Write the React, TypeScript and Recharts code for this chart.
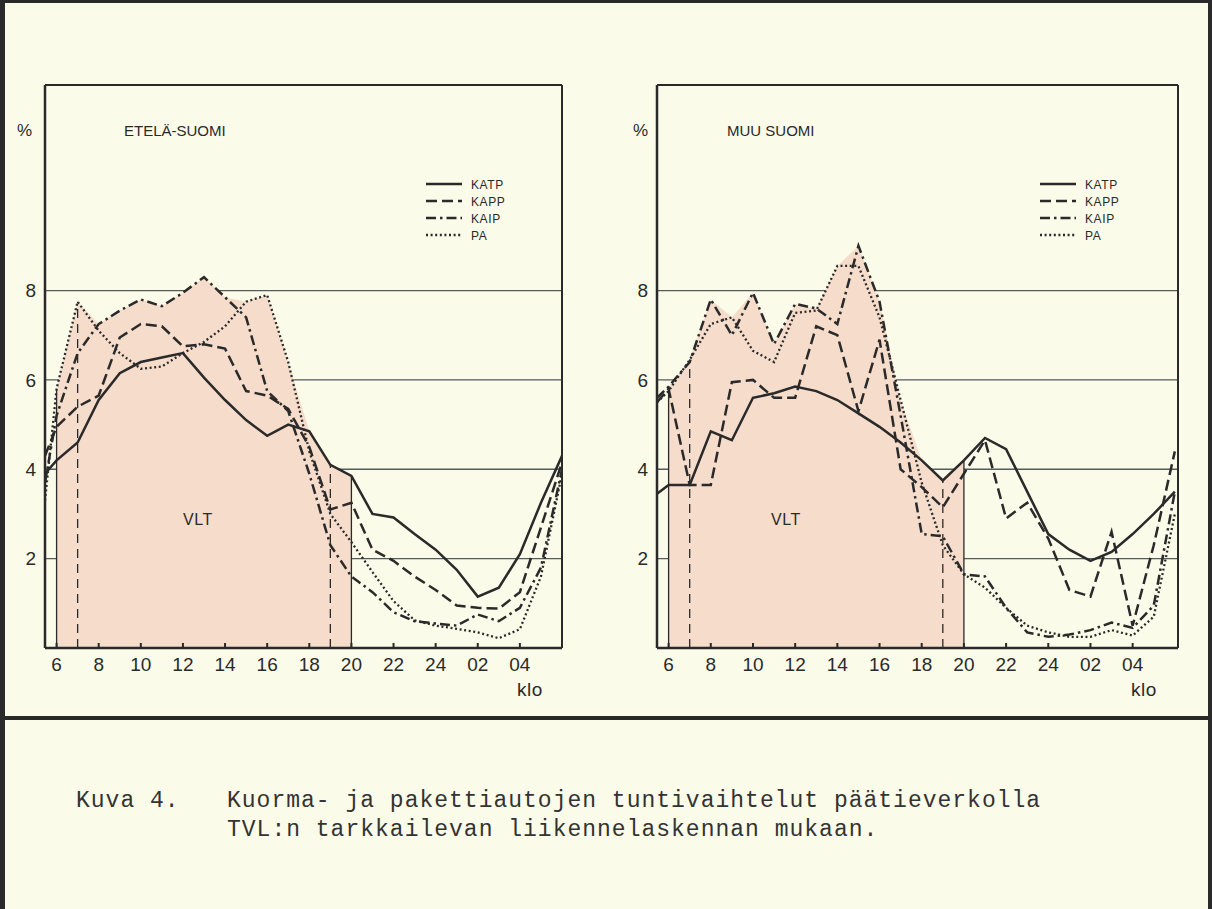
import React from 'react'
import {
  Area,
  CartesianGrid,
  ComposedChart,
  Line,
  ReferenceLine,
  XAxis,
  YAxis,
} from 'recharts'

// hour of day (25..30 = 01..06 next morning), first point sits on the y axis
const HOURS = [5.45, 6, 7, 8, 9, 10, 11, 12, 13, 14, 15, 16, 17, 18, 19, 20, 21, 22, 23, 24, 25, 26, 27, 28, 29, 30]

// ETELÄ-SUOMI
const SOUTH_KATP = [3.9, 4.2, 4.6, 5.55, 6.15, 6.4, 6.5, 6.6, 6.05, 5.55, 5.1, 4.75, 5.0, 4.85, 4.1, 3.85, 3.0, 2.92, 2.55, 2.2, 1.75, 1.15, 1.35, 2.1, 3.25, 4.3]
const SOUTH_KAPP = [4.3, 4.95, 5.4, 5.65, 6.95, 7.25, 7.2, 6.75, 6.8, 6.7, 5.75, 5.65, 5.35, 4.5, 3.1, 3.25, 2.2, 1.95, 1.6, 1.3, 0.95, 0.9, 0.88, 1.25, 2.7, 4.15]
const SOUTH_KAIP = [3.7, 5.2, 6.6, 7.25, 7.55, 7.8, 7.65, 7.95, 8.3, 7.85, 7.4, 5.75, 5.3, 3.9, 2.3, 1.6, 1.25, 0.8, 0.6, 0.55, 0.5, 0.75, 0.6, 0.9, 1.8, 4.0]
const SOUTH_PA = [3.3, 5.8, 7.75, 7.1, 6.6, 6.25, 6.3, 6.6, 6.85, 7.2, 7.75, 7.9, 6.4, 4.4, 3.0, 2.37, 1.7, 1.05, 0.62, 0.5, 0.43, 0.35, 0.22, 0.42, 1.6, 3.9]

// MUU SUOMI
const OTHER_KATP = [3.45, 3.65, 3.65, 4.85, 4.65, 5.6, 5.7, 5.85, 5.75, 5.55, 5.25, 4.95, 4.6, 4.2, 3.75, 4.2, 4.7, 4.45, 3.5, 2.55, 2.2, 1.95, 2.15, 2.55, 3.0, 3.5]
const OTHER_KAPP = [5.5, 5.8, 3.65, 3.65, 5.95, 6.0, 5.6, 5.6, 7.2, 7.0, 5.3, 6.9, 4.0, 3.6, 3.15, 3.9, 4.65, 2.9, 3.25, 2.45, 1.3, 1.15, 2.6, 0.5, 2.3, 4.4]
const OTHER_KAIP = [5.6, 5.85, 6.4, 7.8, 7.0, 7.95, 6.8, 7.7, 7.6, 7.25, 9.0, 7.75, 5.2, 2.55, 2.5, 1.65, 1.6, 0.9, 0.35, 0.25, 0.3, 0.4, 0.57, 0.45, 0.95, 3.5]
const OTHER_PA = [5.5, 5.75, 6.45, 7.25, 7.4, 6.65, 6.4, 7.5, 7.55, 8.55, 8.55, 7.4, 5.55, 3.7, 2.3, 1.65, 1.35, 0.9, 0.5, 0.35, 0.25, 0.25, 0.4, 0.28, 0.7, 3.0]

const TICK_HOURS = [6, 8, 10, 12, 14, 16, 18, 20, 22, 24, 26, 28]
const TICK_LABELS = ['6', '8', '10', '12', '14', '16', '18', '20', '22', '24', '02', '04']
const Y_TICKS = [2, 4, 6, 8]
const SERIES = ['KATP', 'KAPP', 'KAIP', 'PA']

// VLT shading (solid edges) and the dashed marks inside it
const VLT_EDGES = [6, 20]
const VLT_MARKS = [7, 19]

const INK = '#2a2a2a'
const GRID = '#555a5c'
const PINK = '#f6dccb'
const PAPER = '#fbfbe9'
const SANS = '"Liberation Sans", Arial, sans-serif'
const MONO = '"Liberation Mono", "DejaVu Sans Mono", monospace'

const DASH: Record<string, string | undefined> = {
  KATP: undefined,
  KAPP: '11 5',
  KAIP: '10 4 2.5 4',
  PA: '2 2.6',
}

const Y_MAX = 12.6

type SeriesSet = Record<string, number[]>

const buildRows = (set: SeriesSet) =>
  HOURS.map((h, i) => {
    const row: Record<string, number | null> = { h }
    SERIES.forEach((k) => (row[k] = set[k][i]))
    row.vlt =
      h >= VLT_EDGES[0] && h <= VLT_EDGES[1]
        ? Math.max(...SERIES.map((k) => set[k][i]))
        : null
    return row
  })

const HourTick = (props: any) => {
  const { x, y, payload } = props
  const label = TICK_LABELS[TICK_HOURS.indexOf(payload.value)]
  return (
    <g>
      <line x1={x} x2={x} y1={y} y2={y - 5} stroke={INK} strokeWidth={2} />
      <text x={x} y={y + 23} textAnchor='middle' fill={INK} fontSize={19} fontFamily={SANS}>
        {label}
      </text>
    </g>
  )
}

const LegendBox = ({ x }: { x: number }) => (
  <svg width={120} height={72} style={{ position: 'absolute', left: x, top: 174 }}>
    {SERIES.map((k, i) => (
      <g key={k}>
        <line
          x1={0}
          x2={36}
          y1={10 + i * 17}
          y2={10 + i * 17}
          stroke={INK}
          strokeWidth={2.4}
          strokeDasharray={DASH[k]}
        />
        <text x={45} y={14.5 + i * 17} fontSize={12} letterSpacing={0.6} fill={INK} fontFamily={SANS}>
          {k}
        </text>
      </g>
    ))}
  </svg>
)

type HourChartProps = {
  left: number
  rightMargin: number
  xMax: number
  title: string
  titleX: number
  pctX: number
  vltX: number
  kloX: number
  legendX: number
  set: SeriesSet
}

const text = (x: number, y: number, size: number, extra?: React.CSSProperties): React.CSSProperties => ({
  position: 'absolute',
  left: x,
  top: y,
  fontSize: size,
  fontFamily: SANS,
  color: INK,
  lineHeight: 1,
  whiteSpace: 'nowrap',
  ...extra,
})

const HourChart = ({ left, rightMargin, xMax, title, titleX, pctX, vltX, kloX, legendX, set }: HourChartProps) => {
  const rows = buildRows(set)
  const envAt = (h: number) => (rows.find((r) => r.h === h)?.vlt as number) ?? 0

  return (
    <div style={{ position: 'absolute', left, top: 0, width: 600, height: 720 }}>
      <ComposedChart
        width={600}
        height={720}
        data={rows}
        margin={{ top: 85, right: rightMargin, bottom: 32, left: 15 }}
      >
        <CartesianGrid vertical={false} stroke={GRID} strokeWidth={1.3} />
        <XAxis
          type='number'
          dataKey='h'
          domain={[HOURS[0], xMax]}
          allowDataOverflow
          ticks={TICK_HOURS}
          interval={0}
          height={40}
          tickSize={0}
          tickMargin={0}
          tickLine={false}
          axisLine={{ stroke: INK, strokeWidth: 2.5 }}
          tick={<HourTick />}
        />
        <YAxis
          type='number'
          domain={[0, Y_MAX]}
          allowDataOverflow
          ticks={Y_TICKS}
          width={30}
          tickSize={0}
          tickMargin={9}
          tickLine={false}
          axisLine={{ stroke: INK, strokeWidth: 2.5 }}
          tick={{ fill: INK, fontSize: 19, fontFamily: SANS }}
        />
        <Area
          dataKey='vlt'
          type='linear'
          fill={PINK}
          fillOpacity={1}
          stroke='none'
          connectNulls={false}
          isAnimationActive={false}
        />
        {VLT_EDGES.map((h) => (
          <ReferenceLine
            key={`e${h}`}
            segment={[{ x: h, y: 0 }, { x: h, y: envAt(h) }]}
            stroke={INK}
            strokeWidth={1.3}
          />
        ))}
        {VLT_MARKS.map((h) => (
          <ReferenceLine
            key={`m${h}`}
            segment={[{ x: h, y: 0 }, { x: h, y: envAt(h) }]}
            stroke={INK}
            strokeWidth={1.3}
            strokeDasharray='9 6'
          />
        ))}
        <ReferenceLine y={Y_MAX} stroke={INK} strokeWidth={2} />
        <ReferenceLine x={xMax} stroke={INK} strokeWidth={2} />
        {SERIES.map((k) => (
          <Line
            key={k}
            dataKey={k}
            type='linear'
            stroke={INK}
            strokeWidth={k === 'PA' ? 2.3 : 2.5}
            strokeDasharray={DASH[k]}
            dot={false}
            isAnimationActive={false}
          />
        ))}
      </ComposedChart>
      <LegendBox x={legendX} />
      <div style={text(pctX, 122, 17)}>%</div>
      <div style={text(titleX, 123, 15)}>{title}</div>
      <div style={text(vltX, 512, 16, { letterSpacing: 0.5 })}>VLT</div>
      <div style={text(kloX, 680, 19, { letterSpacing: 0.5 })}>klo</div>
    </div>
  )
}

const App = () => (
  <div
    style={{
      position: 'absolute',
      left: 0,
      top: 0,
      width: 1212,
      height: 909,
      background: PAPER,
      overflow: 'hidden',
    }}
  >
    <HourChart
      left={0}
      rightMargin={38}
      xMax={30}
      title='ETELÄ-SUOMI'
      titleX={124}
      pctX={17}
      vltX={183}
      kloX={517}
      legendX={426}
      set={{ KATP: SOUTH_KATP, KAPP: SOUTH_KAPP, KAIP: SOUTH_KAIP, PA: SOUTH_PA }}
    />
    <HourChart
      left={612}
      rightMargin={34}
      xMax={30.15}
      title='MUU SUOMI'
      titleX={115}
      pctX={21}
      vltX={159}
      kloX={519}
      legendX={428}
      set={{ KATP: OTHER_KATP, KAPP: OTHER_KAPP, KAIP: OTHER_KAIP, PA: OTHER_PA }}
    />

    {/* frame of the scanned page */}
    <div style={{ position: 'absolute', left: 0, top: 0, width: 1212, height: 3, background: INK }} />
    <div style={{ position: 'absolute', left: 0, top: 0, width: 5, height: 909, background: INK }} />
    <div style={{ position: 'absolute', left: 1208, top: 0, width: 4, height: 909, background: INK }} />
    <div style={{ position: 'absolute', left: 0, top: 716, width: 1212, height: 4, background: INK }} />

    <div style={text(76, 790, 23, { fontFamily: MONO, letterSpacing: 1, color: '#333' })}>Kuva 4.</div>
    <div style={text(227, 790, 23, { fontFamily: MONO, letterSpacing: 1, color: '#333' })}>
      Kuorma- ja pakettiautojen tuntivaihtelut päätieverkolla
    </div>
    <div style={text(227, 819, 23, { fontFamily: MONO, letterSpacing: 1, color: '#333' })}>
      TVL:n tarkkailevan liikennelaskennan mukaan.
    </div>
  </div>
)

export default App
